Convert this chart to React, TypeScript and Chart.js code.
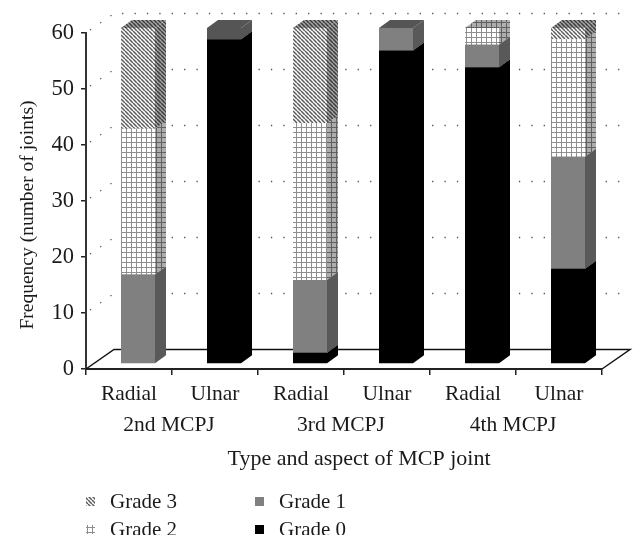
import React, { useEffect, useRef } from "react";
import { Chart, registerables } from "chart.js";

Chart.register(...registerables);

const categories = ["Radial", "Ulnar", "Radial", "Ulnar", "Radial", "Ulnar"];
const groups = ["2nd MCPJ", "3rd MCPJ", "4th MCPJ"];
const grade0 = [0, 58, 2, 56, 53, 17];
const grade1 = [16, 2, 13, 4, 4, 20];
const grade2 = [26, 0, 28, 0, 3, 21];
const grade3 = [18, 0, 17, 0, 0, 2];
const yTicks = [0, 10, 20, 30, 40, 50, 60];
const xTitle = "Type and aspect of MCP joint";
const yTitle = "Frequency (number of joints)";

const FONT = "'Liberation Serif', serif";
const INK = "#1a1a1a";
const DX = 9, DY = -5, SX = 11, SY = -8, BACK_X = 28, BACK_Y = -19.5;

function tile(size: number, draw: (c: CanvasRenderingContext2D) => void, shade = 0) {
  const cv = document.createElement("canvas");
  cv.width = size; cv.height = size;
  const c = cv.getContext("2d")!;
  c.fillStyle = "#fff";
  c.fillRect(0, 0, size, size);
  draw(c);
  if (shade) { c.fillStyle = `rgba(0,0,0,${shade})`; c.fillRect(0, 0, size, size); }
  return c.createPattern(cv, "repeat")!;
}
function hatch(c: CanvasRenderingContext2D) {
  c.strokeStyle = "#5a5a5a"; c.lineWidth = 1.5;
  for (let i = -4; i <= 8; i += 4) { c.beginPath(); c.moveTo(i, 0); c.lineTo(i + 4, 4); c.stroke(); }
}
function grid(c: CanvasRenderingContext2D) {
  c.fillStyle = "#8e8e8e";
  c.fillRect(0, 2, 5, 1); c.fillRect(2, 0, 1, 5);
}

function darkCap(i: number, di: number, fallback: any) {
  // the dark cap on the 2nd MCPJ ulnar bar
  return di === 1 && i === 1 ? "#555555" : fallback;
}

const shapes3d = {
  id: "shapes3d",
  beforeDatasetsDraw(chart: any) {
    const { ctx, chartArea: a, scales } = chart;
    const y = scales.y;
    ctx.save();
    // dotted back wall and side wall gridlines
    ctx.strokeStyle = "#555"; ctx.lineWidth = 1.3; ctx.setLineDash([1.3, 11.1]);
    yTicks.forEach((v) => {
      if (v === 0) return;
      const p = y.getPixelForValue(v);
      ctx.beginPath();
      ctx.moveTo(a.left + 4, p - 3);
      ctx.lineTo(a.left + BACK_X, p + BACK_Y);
      ctx.lineTo(a.right + BACK_X, p + BACK_Y);
      ctx.stroke();
    });
    ctx.setLineDash([]);
    // floor
    const b = y.getPixelForValue(0);
    ctx.strokeStyle = "#111"; ctx.lineWidth = 1.5;
    ctx.beginPath();
    ctx.moveTo(a.left, b);
    ctx.lineTo(a.left + BACK_X, b + BACK_Y);
    ctx.lineTo(a.right + BACK_X, b + BACK_Y);
    ctx.lineTo(a.right, b);
    ctx.stroke();
    // bar depth, painted through the bar elements
    ctx.translate(DX, DY);
    chart.data.datasets.forEach((ds: any, di: number) => {
      chart.getDatasetMeta(di).data.forEach((el: any, i: number) => {
        const v = ds.data[i];
        if (!v) return;
        const h = el.width / 2;
        ctx.fillStyle = darkCap(i, di, ds.sideColor);
        ctx.beginPath();
        ctx.moveTo(el.x + h, el.y);
        ctx.lineTo(el.x + h + SX, el.y + SY);
        ctx.lineTo(el.x + h + SX, el.base + SY);
        ctx.lineTo(el.x + h, el.base);
        ctx.closePath(); ctx.fill();
        ctx.fillStyle = darkCap(i, di, ds.topColor);
        ctx.beginPath();
        ctx.moveTo(el.x - h, el.y);
        ctx.lineTo(el.x - h + SX, el.y + SY);
        ctx.lineTo(el.x + h + SX, el.y + SY);
        ctx.lineTo(el.x + h, el.y);
        ctx.closePath(); ctx.fill();
      });
    });
    ctx.restore();
    ctx.save();
    ctx.translate(DX, DY);
  },
  afterDatasetsDraw(chart: any) {
    const { ctx, scales } = chart;
    ctx.restore();
    ctx.save();
    ctx.fillStyle = INK;
    ctx.textAlign = "center"; ctx.textBaseline = "middle";
    // group labels under the category labels
    ctx.font = `21.5px ${FONT}`;
    groups.forEach((g, k) => {
      const xc = (scales.x.getPixelForValue(k * 2) + scales.x.getPixelForValue(k * 2 + 1)) / 2;
      ctx.fillText(g, xc - 3, 425);
    });
    // axis titles
    ctx.font = `22px ${FONT}`;
    ctx.fillText(xTitle, 359, 459);
    ctx.save();
    ctx.translate(28, 215);
    ctx.rotate(-Math.PI / 2);
    ctx.font = `19.5px ${FONT}`;
    ctx.fillText(yTitle, 0, 0);
    ctx.restore();
    // legend: two columns, clipped like the reference
    ctx.beginPath(); ctx.rect(0, 0, 644, 535); ctx.clip();
    const rows: [number, number, number][] = [[3, 86, 502], [2, 86, 530], [1, 255, 502], [0, 255, 530]];
    ctx.textAlign = "left";
    ctx.font = `21px ${FONT}`;
    rows.forEach(([di, x, yy]) => {
      const ds = chart.data.datasets[di];
      ctx.fillStyle = Array.isArray(ds.backgroundColor) ? ds.backgroundColor[0] : ds.backgroundColor;
      ctx.fillRect(x, yy - 5, 9, 9);
      ctx.fillStyle = INK;
      ctx.fillText(ds.label, x + 24, yy);
    });
    ctx.restore();
  },
};

export default function App() {
  const ref = useRef<HTMLCanvasElement>(null);
  useEffect(() => {
    const hatchP = tile(4, hatch), hatchD = tile(4, hatch, 0.35);
    const gridP = tile(5, grid), gridD = tile(5, grid, 0.32);
    const grade1Colors = grade1.map((_, i) => darkCap(i, 1, "#808080"));
    const chart = new Chart(ref.current!, {
      type: "bar",
      data: {
        labels: categories,
        datasets: [
          { label: "Grade 0", data: grade0, backgroundColor: "#000000", sideColor: "#000000", topColor: "#3a3a3a", stack: "s", clip: false },
          {
            label: "Grade 1", data: grade1,
            backgroundColor: grade1Colors,
            sideColor: "#595959", topColor: "#555555", stack: "s", clip: false,
          },
          { label: "Grade 2", data: grade2, backgroundColor: gridP, sideColor: gridD, topColor: gridD, stack: "s", clip: false },
          { label: "Grade 3", data: grade3, backgroundColor: hatchP, sideColor: hatchD, topColor: hatchD, stack: "s", clip: false },
        ] as any,
      },
      options: {
        responsive: false,
        animation: false,
        layout: { padding: { top: 33, right: 42, left: 0, bottom: 0 } },
        datasets: { bar: { categoryPercentage: 1, barPercentage: 34 / 86, borderWidth: 0 } },
        plugins: { legend: { display: false }, tooltip: { enabled: false } },
        scales: {
          x: {
            stacked: true,
            afterFit: (s: any) => { s.height = 180; },
            grid: { drawOnChartArea: false, color: "#222", tickLength: 6, lineWidth: 1.5 },
            border: { color: "#222", width: 2 },
            ticks: { color: INK, font: { family: FONT, size: 21.5 }, padding: 6, maxRotation: 0, autoSkip: false },
          },
          y: {
            stacked: true, min: 0, max: 60,
            afterFit: (s: any) => { s.width = 86; },
            afterBuildTicks: (s: any) => { s.ticks = yTicks.map((value) => ({ value })); },
            grid: { drawOnChartArea: false, color: "#222", tickLength: 5, lineWidth: 1.5 },
            border: { color: "#333", width: 2 },
            ticks: { color: INK, font: { family: FONT, size: 22.5 }, padding: 7 },
          },
        },
      } as any,
      plugins: [shapes3d],
    });
    return () => chart.destroy();
  }, []);
  return (
    <div style={{ position: "absolute", left: 0, top: 0, width: 644, height: 549 }}>
      <canvas ref={ref} width={644} height={549} style={{ display: "block", background: "#fff" }} />
    </div>
  );
}
